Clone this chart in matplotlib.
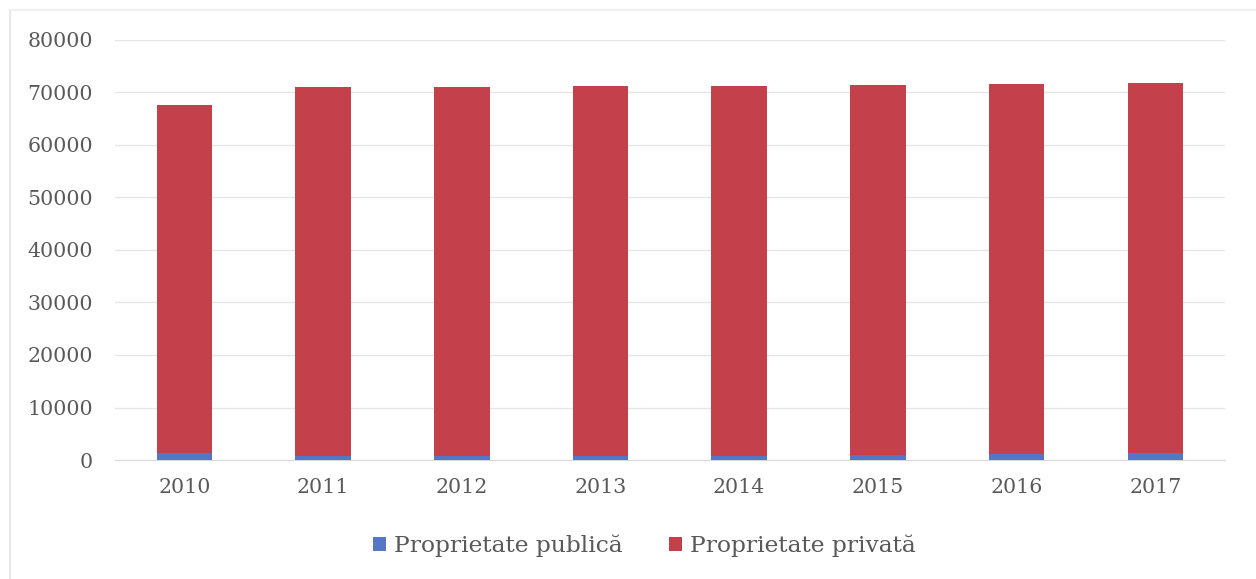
import matplotlib.pyplot as plt
import numpy as np

years = ['2010', '2011', '2012', '2013', '2014', '2015', '2016', '2017']
publica = [1300, 800, 800, 800, 800, 950, 1100, 1250]
total = [67600, 71000, 71000, 71200, 71200, 71400, 71600, 71800]
privata = [t - p for t, p in zip(total, publica)]

plt.rcParams['font.family'] = ['DejaVu Serif']

fig = plt.figure(figsize=(12.56, 5.79), dpi=100)
ax = fig.add_axes([0.0916, 0.2055, 0.8834, 0.7255])

x = np.arange(len(years))
ax.bar(x, publica, width=0.4, color='#5576c6', label='Proprietate publică', zorder=3)
ax.bar(x, privata, width=0.4, bottom=publica, color='#c4404b', label='Proprietate privată', zorder=3)

ax.set_xlim(-0.5, len(years) - 0.5)
ax.set_ylim(0, 80000)
ax.set_yticks(range(0, 80001, 10000))
ax.set_xticks(x)
ax.set_xticklabels(years)
ax.grid(axis='y', color='#e6e6e6', linewidth=1, zorder=0)
for s in ['top', 'right', 'left']:
    ax.spines[s].set_visible(False)
ax.spines['bottom'].set_color('#d9d9d9')
ax.tick_params(axis='both', length=0, labelsize=14.8, colors='#595959')
ax.tick_params(axis='y', pad=16)
ax.tick_params(axis='x', pad=13)

fig.legend(loc='center', bbox_to_anchor=(0.513, 0.057), ncol=2, frameon=False,
           fontsize=16.8, handlelength=0.55, handleheight=0.55, handletextpad=0.35,
           columnspacing=2.0, labelcolor='#595959')

# faint chart border
fig.add_artist(plt.Line2D([0.008, 0.008], [0, 0.983], color='#e8e8e8', lw=1.5))
fig.add_artist(plt.Line2D([0.008, 1], [0.983, 0.983], color='#eeeeee', lw=1.2))

fig.savefig('out.png', dpi=100)
